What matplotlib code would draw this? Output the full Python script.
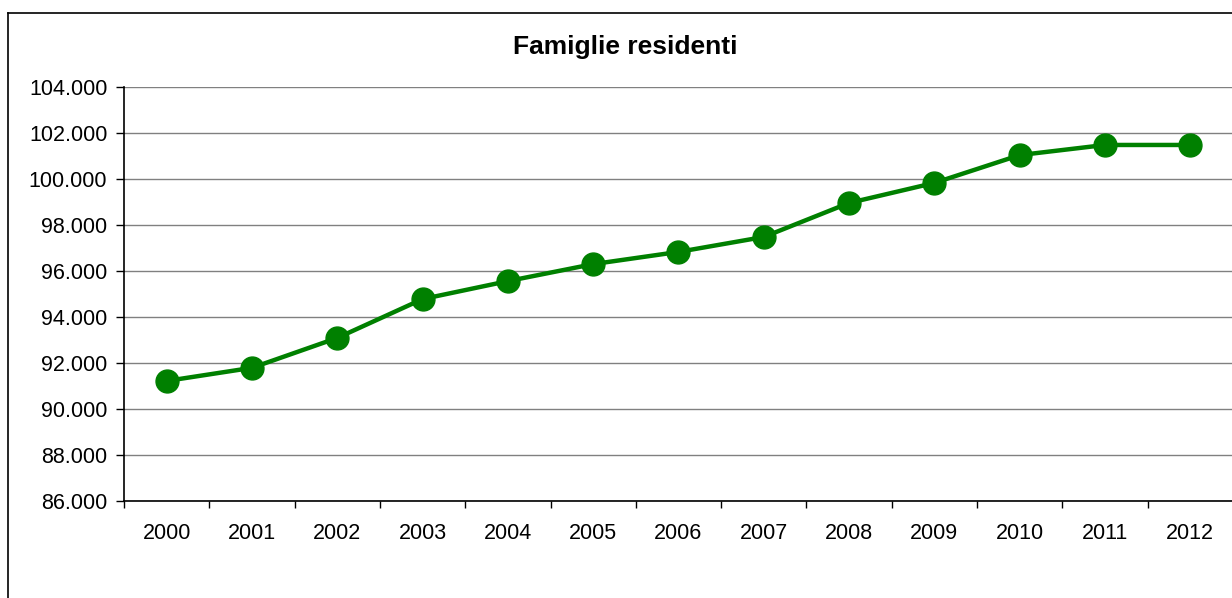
import matplotlib
matplotlib.use("Agg")
import matplotlib.pyplot as plt
from matplotlib.lines import Line2D
from matplotlib.ticker import FuncFormatter, FixedLocator

years = ["2000", "2001", "2002", "2003", "2004", "2005", "2006",
         "2007", "2008", "2009", "2010", "2011", "2012"]
famiglie = [91220, 91790, 93090, 94780, 95560, 96300, 96830,
            97480, 98960, 99830, 101040, 101480, 101480]
title = "Famiglie residenti"

plt.rcParams['font.family'] = ['Liberation Sans', 'DejaVu Sans']

W, H = 1232, 598
fig = plt.figure(figsize=(W / 100, H / 100), dpi=100)
fig.patch.set_facecolor("white")

# outer chart border (partially outside the image)
fig.add_artist(Line2D([7.5 / W, 7.5 / W], [0, 1 - 12.5 / H], color="black", lw=1.2))
fig.add_artist(Line2D([7.5 / W, 1], [1 - 12.5 / H, 1 - 12.5 / H], color="black", lw=1.2))

left, right, bottom, top = 124, 1233, 501, 87
ax = fig.add_axes([left / W, 1 - bottom / H, (right - left) / W, (bottom - top) / H])

x = list(range(len(years)))
ax.plot(x, famiglie, color="#008000", lw=3.2, marker="o", markersize=16.5,
        markerfacecolor="#008000", markeredgecolor="#008000", zorder=3, clip_on=False)

ax.set_xlim(-0.5, len(years) - 0.5)
ax.set_ylim(86000, 104000)
ax.yaxis.set_major_locator(FixedLocator(list(range(86000, 104001, 2000))))
ax.yaxis.set_major_formatter(FuncFormatter(lambda v, p: f"{int(v):,}".replace(",", ".")))
ax.yaxis.grid(True, color="#808080", lw=1)
ax.set_axisbelow(True)

ax.set_xticks(x)
ax.set_xticklabels(years)
ax.set_xticks([i - 0.5 for i in range(len(years) + 1)], minor=True)
ax.tick_params(axis="x", which="major", length=0, pad=16, labelsize=15.5)
ax.tick_params(axis="x", which="minor", length=5, direction="out", width=1)
ax.tick_params(axis="y", length=6, direction="out", width=1, pad=6, labelsize=15.5)

for s in ["top", "right"]:
    ax.spines[s].set_visible(False)
for s in ["left", "bottom"]:
    ax.spines[s].set_color("black")
    ax.spines[s].set_linewidth(1.2)

fig.text(625 / W, 1 - 47 / H, title, ha="center", va="center",
         fontsize=19, fontweight="bold")

fig.savefig("out.png", dpi=100)
